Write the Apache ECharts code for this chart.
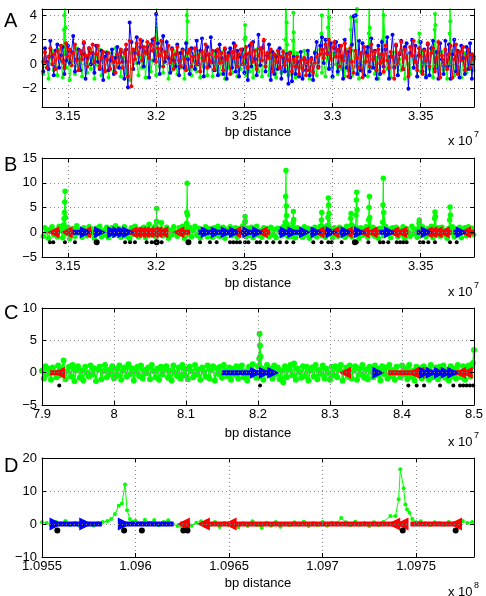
<!DOCTYPE html>
<html><head><meta charset="utf-8">
<script src="https://cdn.jsdelivr.net/npm/echarts@6/dist/echarts.min.js"></script>
<style>html,body{margin:0;padding:0;background:#fff}#c{width:486px;height:596px}</style>
</head><body><div id="c"></div>
<script>
// ---------------- DATA ----------------
// tick labels
const xTicksAB = [3.15, 3.2, 3.25, 3.3, 3.35];
const xTicksC = [7.9, 8.0, 8.1, 8.2, 8.3, 8.4, 8.5];
const xTicksD = [1.0955, 1.096, 1.0965, 1.097, 1.0975];
const yTicksA = [-2, 0, 2, 4];
const yTicksB = [-5, 0, 5, 10, 15];
const yTicksC = [-5, 0, 5, 10];
const yTicksD = [-10, 0, 10, 20];

// Panels A/B probe positions (x 10^7 bp)
const posAB = [3.136,3.137,3.138,3.139,3.140,3.141,3.142,3.143,3.144,3.145,
3.146,3.147,3.148,3.149,3.150,3.151,3.152,3.153,3.154,3.155,
3.156,3.157,3.158,3.159,3.160,3.161,3.162,3.163,3.164,3.165,
3.166,3.167,3.168,3.169,3.170,3.171,3.172,3.173,3.174,3.175,
3.176,3.177,3.178,3.179,3.180,3.181,3.182,3.183,3.184,3.185,
3.186,3.187,3.188,3.189,3.190,3.191,3.192,3.193,3.194,3.195,
3.196,3.197,3.198,3.199,3.200,3.201,3.202,3.203,3.204,3.205,
3.206,3.207,3.208,3.209,3.210,3.211,3.212,3.213,3.214,3.215,
3.216,3.217,3.218,3.219,3.220,3.221,3.222,3.223,3.224,3.225,
3.226,3.227,3.228,3.229,3.230,3.231,3.232,3.233,3.234,3.235,
3.236,3.237,3.238,3.239,3.240,3.241,3.242,3.243,3.244,3.245,
3.246,3.247,3.248,3.249,3.250,3.251,3.252,3.253,3.254,3.255,
3.256,3.257,3.258,3.259,3.260,3.261,3.262,3.263,3.264,3.265,
3.266,3.267,3.268,3.269,3.270,3.271,3.272,3.273,3.274,3.275,
3.276,3.277,3.278,3.279,3.280,3.281,3.282,3.283,3.284,3.285,
3.286,3.287,3.288,3.289,3.290,3.291,3.292,3.293,3.294,3.295,
3.296,3.297,3.298,3.299,3.300,3.301,3.302,3.303,3.304,3.305,
3.306,3.307,3.308,3.309,3.310,3.311,3.312,3.313,3.314,3.315,
3.316,3.317,3.318,3.319,3.320,3.321,3.322,3.323,3.324,3.325,
3.326,3.327,3.328,3.329,3.330,3.331,3.332,3.333,3.334,3.335,
3.336,3.337,3.338,3.339,3.340,3.341,3.342,3.343,3.344,3.345,
3.346,3.347,3.348,3.349,3.350,3.351,3.352,3.353,3.354,3.355,
3.356,3.357,3.358,3.359,3.360,3.361,3.362,3.363,3.364,3.365,
3.366,3.367,3.368,3.369,3.370,3.371,3.372,3.373,3.374,3.375,
3.376,3.377,3.378,3.379,3.380];
const redA = [0.2,1.0,-0.3,0.6,1.3,0.0,0.8,-0.4,1.1,0.5,
1.5,0.2,-0.3,1.7,0.6,1.2,-0.1,0.9,1.6,0.3,
-0.5,1.1,0.4,1.8,0.7,-0.2,1.3,0.9,1.6,0.1,
0.8,1.5,-0.3,0.5,1.0,-0.6,0.4,0.9,-0.4,0.6,
0.2,-0.7,0.8,0.1,1.2,-0.3,0.9,1.6,-1.0,1.9,
-1.8,1.2,0.4,1.7,0.8,2.0,0.3,1.4,0.9,1.8,
0.5,1.6,1.1,2.1,0.2,1.3,0.7,1.9,-0.2,1.0,
0.6,1.5,0.1,1.2,-0.4,0.8,1.4,0.3,-0.2,1.1,
0.4,-0.5,0.9,1.2,-0.2,0.6,1.3,0.0,0.7,-0.6,
1.0,0.3,1.6,-0.3,0.8,0.2,1.1,-0.4,0.6,1.2,
0.1,0.9,-0.5,1.3,0.4,0.7,-0.8,1.0,0.5,1.5,
-0.2,0.8,1.2,0.0,0.6,1.4,-0.3,0.9,1.7,0.2,
1.1,-0.4,0.7,1.3,0.3,2.0,-0.2,0.9,0.5,1.2,
-0.6,0.8,0.2,1.1,-0.3,0.6,1.0,-0.1,0.7,0.3,
0.9,-0.6,0.4,-0.2,0.6,-0.8,0.3,-0.4,0.5,-0.9,
0.2,-0.5,0.4,-0.7,0.1,0.6,-0.3,0.8,1.2,0.5,
1.6,0.8,2.0,0.4,1.4,1.8,0.6,1.2,-0.2,1.5,
0.3,1.7,0.9,-1.0,1.3,0.2,-0.7,1.1,0.5,-0.3,
0.9,-1.1,1.4,0.2,0.7,-0.2,1.6,0.4,1.0,-0.5,
1.2,0.1,0.8,-0.6,1.5,0.3,-0.3,1.0,0.6,-1.2,
1.6,0.0,0.9,1.8,-0.4,1.2,0.5,-1.0,1.4,0.7,
1.9,0.2,-0.5,1.3,0.6,-0.8,1.1,0.3,1.7,-0.2,
0.9,1.3,-0.6,0.5,1.8,-1.1,0.7,0.0,1.2,-0.4,
0.8,1.5,-1.1,0.4,1.6,-0.8,1.0,0.3,1.4,-0.5,
0.6,1.2,-0.3,0.8,0.4];
const blueA = [-0.6,1.3,0.2,-0.4,1.9,0.6,-0.9,1.1,1.6,-0.3,
0.7,1.4,-0.8,0.3,1.5,0.1,1.0,2.3,-0.6,0.4,
1.2,-0.5,0.8,1.7,-1.2,0.5,1.3,0.0,0.9,-0.7,
1.5,0.2,-0.4,1.1,-1.3,0.6,0.9,-0.5,0.3,1.2,
-0.8,0.5,1.4,-0.3,1.0,0.2,-1.2,1.2,-1.9,3.4,
1.8,-0.4,0.9,2.2,0.1,1.4,1.9,-0.2,1.0,1.4,
-1.1,1.6,2.0,0.3,4.1,1.7,-0.8,1.2,2.3,0.2,
1.8,0.5,-0.7,1.3,0.3,-0.2,1.6,-0.9,0.9,1.2,
-0.3,1.7,0.4,-0.8,1.3,0.6,-0.4,1.9,0.0,1.1,
2.1,-1.0,0.7,1.4,-0.2,2.2,0.2,-0.5,1.1,-0.9,
1.6,0.5,-0.8,1.2,-1.2,0.9,1.3,-0.3,1.7,-0.6,
1.1,-1.0,0.6,1.2,-0.7,0.8,-1.3,1.5,-0.2,1.8,
0.4,-0.9,2.4,-0.1,1.3,1.9,-0.6,0.7,1.6,-1.3,
1.0,-0.8,0.6,-0.4,1.3,-1.2,0.5,-0.6,0.8,-1.6,
0.9,-1.4,0.6,-0.8,0.2,-1.0,1.0,-1.2,0.4,-0.5,
1.1,-0.9,0.5,-1.3,0.9,1.8,-0.2,1.5,2.2,0.1,
2.0,0.9,-0.4,1.7,-1.0,1.3,1.8,-0.6,1.5,0.6,
-1.2,2.0,-0.3,1.0,-1.1,1.6,3.9,4.0,-0.8,1.9,
-0.5,1.7,-0.9,0.9,1.4,-0.6,2.1,-0.3,1.1,-1.2,
1.5,-0.8,1.8,-0.2,1.2,2.2,-1.2,0.6,2.4,-0.3,
1.5,-0.9,0.8,1.9,-0.4,1.4,1.7,-2.0,0.9,2.0,
-0.3,1.5,-1.0,0.7,1.8,-0.6,1.2,-1.1,1.6,-0.9,
1.3,1.9,-0.4,1.0,-1.2,1.7,0.4,-0.8,1.9,-0.2,
1.6,-1.2,0.8,2.0,-0.6,1.1,-1.1,1.5,0.5,-0.8,
1.4,-0.4,1.7,-1.2,0.6];
// green signal on the same probes (panels A and B)
const greenAB = [-0.8,0.9,0.1,-1.2,0.6,1.1,-0.5,0.3,-0.9,1.2,
0.4,-1.1,0.8,-0.3,1.0,-1.3,0.2,0.7,-0.8,1.3,
-0.2,0.5,-1.0,0.9,0.0,-0.7,1.1,-0.4,0.6,-1.2,
0.8,-0.1,1.2,-0.9,0.3,-0.5,1.0,-1.1,0.4,0.9,
-0.6,1.3,-0.2,0.7,-1.0,0.5,1.1,-0.8,0.2,-1.3,
0.9,-0.4,1.2,0.1,-0.9,0.6,-0.3,1.0,-1.1,0.8,
1.6,-0.6,0.3,1.1,-0.9,0.7,-0.2,1.9,-0.7,0.5,
1.0,-1.2,0.4,-0.5,1.1,0.0,-0.8,0.9,-0.3,1.2,
-1.2,0.6,-0.4,1.0,-0.9,0.3,1.2,-0.6,0.8,-1.1,
0.5,-0.2,1.1,-0.9,0.7,0.1,-1.0,0.9,-0.5,1.2,
-0.8,0.4,1.0,-1.2,0.6,-0.3,1.1,-0.7,0.2,0.9,
-1.0,0.7,-0.4,1.2,0.0,-0.9,0.8,-0.6,1.0,-1.1,
0.5,1.2,-0.6,0.3,-1.0,0.9,-0.2,0.7,-0.9,1.0,
-0.5,0.6,-1.1,0.8,0.2,-0.7,1.1,-0.4,0.5,-0.9,
1.0,-0.8,0.3,-1.1,0.9,-0.3,0.6,-1.0,1.1,-0.5,
0.8,-1.2,0.4,-0.6,1.0,-0.9,0.2,1.2,-0.7,0.5,
-1.0,1.3,-0.3,0.7,-1.1,0.9,0.0,-0.8,1.0,-0.4,
0.6,-1.0,1.2,-0.5,0.3,-0.9,1.1,-0.2,0.8,-1.2,
0.9,-0.6,0.2,1.1,-1.0,0.7,-0.3,1.0,-0.8,0.5,
-1.2,0.8,0.1,-0.7,1.2,-0.4,0.6,-1.1,0.9,-0.2,
1.0,-0.9,0.4,-0.5,1.1,-1.2,0.7,0.0,-0.8,1.2,
-0.3,0.6,-1.0,0.9,-0.6,1.1,0.2,-0.9,0.7,-0.4,
1.2,-1.1,0.5,-0.2,0.9,-0.8,1.0,-0.5,0.3,-1.2,
0.8,-0.1,1.1,-0.9,0.6,-0.6,1.0,-1.1,0.4,0.9,
-0.7,1.1,-0.4,0.8,-0.5];
// extra green readings in the peaks, [position x10^7, value]
const greenPeaksAB = [[3.1476,1.5],[3.1478,2.8],[3.1480,4.0],[3.1482,6.1],[3.1484,8.3],[3.1486,3.0],
[3.2002,2.2],[3.2003,4.8],[3.2004,2.0],
[3.2173,1.8],[3.2174,4.0],[3.2176,9.9],[3.2178,3.5],
[3.2503,2.0],[3.2504,3.2],[3.2505,2.2],
[3.2732,2.0],[3.2734,7.2],[3.2736,12.5],[3.2738,5.3],[3.2740,3.4],[3.2742,1.6],
[3.2776,1.9],[3.2778,4.2],[3.2780,2.6],
[3.2937,2.5],[3.2939,4.0],[3.2941,1.2],
[3.2972,1.3],[3.2974,3.0],[3.2976,6.9],[3.2978,5.5],[3.2980,3.8],
[3.3103,2.8],[3.3105,3.8],[3.3107,1.5],
[3.3133,3.5],[3.3135,6.5],[3.3137,8.1],[3.3139,4.5],
[3.3205,2.5],[3.3207,5.0],[3.3209,7.2],[3.3211,3.0],
[3.3284,2.0],[3.3286,5.5],[3.3288,10.9],[3.3290,4.0],
[3.3491,1.8],[3.3492,2.5],[3.3493,1.8],
[3.3579,2.8],[3.3581,4.1],[3.3583,3.2],
[3.3664,2.5],[3.3666,5.1],[3.3668,3.5]];

// Panel B genes
const redStartB = [3.1417,3.1493,3.1597,3.1861,3.1908,3.1955,3.2002,3.2126,3.2447,3.2598,3.2920,3.3005,3.3080,3.3175,3.3222,3.3345,3.3534,3.3590,3.3751];
const redEndB   = [3.1455,3.1521,3.1635,3.1908,3.1955,3.2002,3.2069,3.2192,3.2504,3.2646,3.2957,3.3042,3.3118,3.3212,3.3269,3.3430,3.3590,3.3675,3.3802];
const redTriB = [3.1417,3.1493,3.1597,3.1861,3.1885,3.1908,3.1930,3.1955,3.1980,3.2002,3.2035,3.2126,3.2447,3.2598,3.2920,3.3005,3.3080,3.3175,3.3222,3.3345,3.3390,3.3534,3.3560,3.3590,3.3630,3.3751];
const blueStartB = [3.1521,3.1644,3.1729,3.1757,3.1786,3.1814,3.2239,3.2287,3.2344,3.2400,3.2475,3.2523,3.2693,3.2778,3.2872,3.2957,3.3042,3.3118,3.3269,3.3477,3.3685];
const blueEndB   = [3.1602,3.1682,3.1757,3.1786,3.1814,3.1842,3.2287,3.2344,3.2400,3.2447,3.2523,3.2579,3.2778,3.2844,3.2910,3.2995,3.3080,3.3156,3.3326,3.3534,3.3732];
const blueTriB = [3.1602,3.1682,3.1757,3.1786,3.1814,3.1842,3.2287,3.2344,3.2400,3.2447,3.2523,3.2579,3.2735,3.2778,3.2844,3.2910,3.2995,3.3080,3.3156,3.3326,3.3534,3.3732];
const starsB = [3.1398,3.1417,3.1483,3.1540,3.1824,3.1852,3.1880,3.1946,3.1975,3.1994,3.2031,3.2249,3.2305,3.2343,3.2419,3.2438,3.2457,3.2475,3.2504,3.2523,3.2570,3.2589,3.2627,3.2664,3.2702,3.2740,3.2778,3.2891,3.2938,3.2976,3.2995,3.3052,3.3137,3.3203,3.3269,3.3288,3.3316,3.3364,3.3383,3.3401,3.3420,3.3496,3.3515,3.3543,3.3581,3.3666,3.3704];
const bigStarsB = [3.1663,3.2003,3.2183,3.3127];

// Panel C probe positions (x 10^7 bp) and green signal
const posC = [7.9,7.9025,7.905,7.9075,7.91,7.9125,7.915,7.9175,7.92,7.9225,
7.925,7.9275,7.93,7.9325,7.935,7.9375,7.94,7.9425,7.945,7.9475,
7.95,7.9525,7.955,7.9575,7.96,7.9625,7.965,7.9675,7.97,7.9725,
7.975,7.9775,7.98,7.9825,7.985,7.9875,7.99,7.9925,7.995,7.9975,
8.0,8.0025,8.005,8.0075,8.01,8.0125,8.015,8.0175,8.02,8.0225,
8.025,8.0275,8.03,8.0325,8.035,8.0375,8.04,8.0425,8.045,8.0475,
8.05,8.0525,8.055,8.0575,8.06,8.0625,8.065,8.0675,8.07,8.0725,
8.075,8.0775,8.08,8.0825,8.085,8.0875,8.09,8.0925,8.095,8.0975,
8.1,8.1025,8.105,8.1075,8.11,8.1125,8.115,8.1175,8.12,8.1225,
8.125,8.1275,8.13,8.1325,8.135,8.1375,8.14,8.1425,8.145,8.1475,
8.15,8.1525,8.155,8.1575,8.16,8.1625,8.165,8.1675,8.17,8.1725,
8.175,8.1775,8.18,8.1825,8.185,8.1875,8.19,8.1925,8.195,8.1975,
8.2,8.2025,8.205,8.2075,8.21,8.2125,8.215,8.2175,8.22,8.2225,
8.225,8.2275,8.23,8.2325,8.235,8.2375,8.24,8.2425,8.245,8.2475,
8.25,8.2525,8.255,8.2575,8.26,8.2625,8.265,8.2675,8.27,8.2725,
8.275,8.2775,8.28,8.2825,8.285,8.2875,8.29,8.2925,8.295,8.2975,
8.3,8.3025,8.305,8.3075,8.31,8.3125,8.315,8.3175,8.32,8.3225,
8.325,8.3275,8.33,8.3325,8.335,8.3375,8.34,8.3425,8.345,8.3475,
8.35,8.3525,8.355,8.3575,8.36,8.3625,8.365,8.3675,8.37,8.3725,
8.375,8.3775,8.38,8.3825,8.385,8.3875,8.39,8.3925,8.395,8.3975,
8.4,8.4025,8.405,8.4075,8.41,8.4125,8.415,8.4175,8.42,8.4225,
8.425,8.4275,8.43,8.4325,8.435,8.4375,8.44,8.4425,8.445,8.4475,
8.45,8.4525,8.455,8.4575,8.46,8.4625,8.465,8.4675,8.47,8.4725,
8.475,8.4775,8.48,8.4825,8.485,8.4875,8.49,8.4925,8.495,8.4975,
8.5];
const greenC = [0.3,-0.9,1.0,-0.2,0.6,-1.1,0.8,0.1,-0.7,1.1,
-0.4,0.5,1.9,-1.0,0.2,0.9,-0.6,1.2,-1.3,0.4,
1.0,-0.8,0.3,-1.2,0.9,0.0,-0.6,1.1,-0.3,0.7,
-1.3,0.5,0.9,-1.0,0.2,1.2,-0.7,0.4,-0.2,1.0,
-0.9,0.6,-0.4,1.1,-1.1,0.3,0.8,-0.6,1.3,-0.2,
0.7,-1.2,0.1,0.9,-0.5,1.1,-0.9,0.4,-0.1,0.8,
-1.0,1.2,0.2,-0.7,0.6,-1.1,0.9,-0.3,0.5,1.0,
-0.8,0.3,-1.2,1.1,0.0,-0.5,0.8,-0.9,1.2,-0.4,
0.6,-1.0,0.9,0.2,-0.7,1.2,-0.3,0.5,-1.1,0.8,
0.1,-0.6,1.1,-0.9,0.4,1.0,-1.2,0.7,-0.2,0.9,
-0.8,1.2,0.3,-0.5,0.8,-1.1,0.6,-0.3,1.0,-0.9,
0.5,1.1,-0.7,0.2,-1.2,0.9,-0.4,1.3,0.0,-0.8,
1.0,-0.6,0.7,-1.1,0.4,1.2,-0.3,0.6,-0.9,1.1,
-0.2,0.8,-1.0,0.3,-1.5,1.0,-0.7,0.5,1.2,-0.4,
1.4,-1.1,0.6,0.1,-0.8,1.0,-0.5,0.9,-1.2,0.3,
0.8,-0.6,1.2,-1.0,0.4,-0.2,1.1,-0.9,0.6,0.0,
-1.1,0.9,-0.4,1.0,-0.7,0.5,1.2,-1.2,0.2,0.8,
-0.6,1.1,-0.9,0.3,1.0,-1.1,0.7,-0.3,1.2,-0.8,
0.5,-1.0,0.9,0.1,-0.7,1.1,-0.4,0.6,-1.2,1.0,
-0.2,0.8,-0.9,1.2,-0.5,0.4,-1.1,0.9,0.0,-0.7,
1.1,-0.3,0.6,-1.0,1.2,-0.6,0.3,-1.2,0.9,-0.1,
0.7,-0.9,1.0,-0.4,0.5,-1.1,1.2,-0.7,0.2,0.8,
-1.0,0.9,-0.3,1.1,-0.8,0.4,-1.2,1.0,-0.5,0.6,
-0.9,1.2,0.0,-0.7,1.0,-1.1,0.5,1.1,-0.6,0.9,
3.5];
const greenPeaksC = [[8.2018,2.2],[8.2022,6.0],[8.2028,4.2],[8.2034,2.5],[8.4985,1.5]];
const redStartC = [7.9110,8.3810,8.4740];
const redEndC   = [7.9235,8.4227,8.4944];
const redTriC = [7.9235,8.3208,8.4157,8.4227,8.4806,8.4899];
const blueStartC = [8.1496,8.4250,8.4480];
const blueEndC   = [8.2213,8.4440,8.4740];
const blueTriC = [8.1972,8.2097,8.2213,8.3671,8.4319,8.4412,8.4528,8.4621,8.4713];
const starsC = [7.9240,8.2028,8.4088,8.4204,8.4306,8.4528,8.4713,8.4806,8.4851,8.4898,8.4944,8.4990];

// Panel D (x 10^8 bp), [position, value]
const greenD = [[1.095500,0.5],[1.095525,0.3],[1.095550,-0.4],[1.095575,0.6],[1.095600,0.2],[1.095625,0.9],[1.095650,-0.3],[1.095675,0.4],[1.095700,-0.6],[1.095725,0.7],
[1.095750,0.1],[1.095775,-0.5],[1.095800,0.3],[1.095825,0.6],[1.095850,0.9],[1.095870,1.5],[1.095890,3.0],[1.095910,5.5],[1.095927,6.2],[1.095944,12.0],
[1.095955,4.2],[1.095970,1.5],[1.095985,0.6],[1.096000,1.0],[1.096025,0.2],[1.096050,1.3],[1.096075,0.4],[1.096100,1.2],[1.096125,-0.4],[1.096150,0.6],
[1.096175,1.1],[1.096200,0.0],[1.096225,-0.6],[1.096250,-1.2],[1.096275,0.3],[1.096300,-0.5],[1.096325,0.4],[1.096350,0.8],[1.096375,-0.7],[1.096400,-0.2],
[1.096425,0.6],[1.096450,-0.9],[1.096475,0.3],[1.096500,-0.4],[1.096525,0.5],[1.096550,-1.0],[1.096575,0.2],[1.096600,-0.6],[1.096625,0.8],[1.096650,-0.3],
[1.096675,-1.1],[1.096700,0.4],[1.096725,-0.5],[1.096750,0.6],[1.096775,-0.8],[1.096800,0.1],[1.096825,-0.4],[1.096850,0.5],[1.096875,-0.2],[1.096900,0.7],
[1.096925,-0.6],[1.096950,0.3],[1.096975,-0.3],[1.097000,0.6],[1.097025,-0.5],[1.097050,0.4],[1.097075,0.2],[1.097100,1.8],[1.097125,0.5],[1.097150,-0.4],
[1.097175,0.7],[1.097200,-0.2],[1.097225,0.3],[1.097250,-0.6],[1.097275,0.5],[1.097300,-0.3],[1.097325,0.6],[1.097363,2.4],[1.097390,2.4],[1.097407,7.5],
[1.097416,16.6],[1.097434,10.8],[1.097443,5.9],[1.097452,4.4],[1.097465,3.4],[1.097480,1.5],[1.097500,0.5],[1.097525,0.8],[1.097550,0.2],[1.097575,-0.3],
[1.097600,0.5],[1.097625,0.3],[1.097650,-0.2],[1.097675,0.6],[1.097700,0.2],[1.097725,-0.4],[1.097750,0.9],[1.097775,0.3],[1.097800,0.6]];
const blueStartD = [1.095570,1.095935];
const blueEndD   = [1.095820,1.096203];
const blueTriD = [1.095575,1.095734,1.095940];
const redStartD = [1.096239,1.096363,1.097470];
const redEndD   = [1.096292,1.097434,1.097728];
const redTriD = [1.096256,1.096363,1.096506,1.097381,1.097425,1.097711];
const starsD = [1.095582,1.095939,1.096034,1.096256,1.096278,1.097429,1.097712];

// ---------------- CHART ----------------
const FONT = '"Liberation Sans", Arial, Helvetica, sans-serif';
const fmt = v => String(+(+v).toFixed(4)).replace('-', '\u2212');
const GREEN = '#00ff00', RED = '#ff0000', BLUE = '#0000ff';
const RIGHT = 'path://M0,0L10,5L0,10Z', LEFT = 'path://M10,0L0,5L10,10Z';

const panels = [
  {top: 9,   height: 98, xMin: 3.1353, xMax: 3.3802,  xTicks: xTicksAB, yMin: -3.5, yMax: 4.5, yTicks: yTicksA},
  {top: 158, height: 99, xMin: 3.1353, xMax: 3.3802,  xTicks: xTicksAB, yMin: -5,   yMax: 15,  yTicks: yTicksB},
  {top: 308, height: 97, xMin: 7.9,    xMax: 8.5,     xTicks: xTicksC,  yMin: -5,   yMax: 10,  yTicks: yTicksC},
  {top: 458, height: 99, xMin: 1.0955, xMax: 1.09781, xTicks: xTicksD,  yMin: -10,  yMax: 20,  yTicks: yTicksD}
];

const grid = [], xAxis = [], yAxis = [];
panels.forEach(p => grid.push({left: 42, width: 432, top: p.top, height: p.height, show: false, outerBoundsMode: 'none'}));
function axisBase(main, ticks) {
  return {
    z: 10,
    axisLine: {show: true, onZero: false, lineStyle: {color: '#000', width: 1}},
    axisTick: {show: true, inside: true, length: 4, customValues: ticks, lineStyle: {color: '#000', width: 1}},
    splitLine: {show: main, lineStyle: {color: '#8a8a8a', width: 1, type: [1, 3]}},
  };
}
['bottom', 'top'].forEach(pos => panels.forEach((p, i) => {
  const main = pos === 'bottom';
  xAxis.push(Object.assign({type: 'value', gridIndex: i, position: pos, min: p.xMin, max: p.xMax,
    axisLabel: {show: main, customValues: p.xTicks, formatter: fmt, margin: 3, color: '#000', fontSize: 13, fontFamily: FONT, hideOverlap: false}
  }, axisBase(main, p.xTicks)));
}));
['left', 'right'].forEach(pos => panels.forEach((p, i) => {
  const main = pos === 'left';
  yAxis.push(Object.assign({type: 'value', gridIndex: i, position: pos, min: p.yMin, max: p.yMax,
    axisLabel: {show: main, customValues: p.yTicks, formatter: fmt, margin: 5, color: '#000', fontSize: 13, fontFamily: FONT, hideOverlap: false}
  }, axisBase(main, p.yTicks)));
}));

const zip = (xs, ys) => xs.map((x, k) => [x, ys[k]]);
const merge = (a, b) => a.concat(b).sort((p, q) => p[0] - q[0]);
const segs = (s, e) => { const d = []; s.forEach((v, k) => { d.push([v, 0], [e[k], 0], [e[k], '-']); }); return d; };
const at = (xs, y) => xs.map(x => [x, y]);

function lineS(i, data, color, size, z, lw) {
  return {type: 'line', xAxisIndex: i, yAxisIndex: i, data, symbol: 'circle', symbolSize: size, showSymbol: true, z,
    itemStyle: {color, borderWidth: 0}, lineStyle: {color, width: lw || 1}, clip: true, silent: true, animation: false};
}
function barS(i, data, color) {
  return {type: 'line', xAxisIndex: i, yAxisIndex: i, data, symbol: 'none', connectNulls: false, z: 6,
    lineStyle: {color, width: 5}, clip: true, silent: true, animation: false};
}
function triS(i, xs, color, sym, size) {
  return {type: 'scatter', xAxisIndex: i, yAxisIndex: i, data: at(xs, 0), symbol: sym, symbolSize: [size, size], z: 7,
    itemStyle: {color, opacity: 1, borderWidth: 0, borderColor: color}, clip: true, silent: true, animation: false};
}
function starS(i, xs, size) {
  return {type: 'scatter', xAxisIndex: i, yAxisIndex: i, data: at(xs, -2), symbol: 'circle', symbolSize: size, z: 7,
    itemStyle: {color: '#000', opacity: 1, borderWidth: 0}, clip: true, silent: true, animation: false};
}

const greenABData = merge(zip(posAB, greenAB), greenPeaksAB);
const series = [
  lineS(0, greenABData, GREEN, 4, 2), lineS(0, zip(posAB, blueA), BLUE, 4, 3), lineS(0, zip(posAB, redA), RED, 4, 4),
  lineS(1, greenABData, GREEN, 5.5, 2, 1.2),
  barS(1, segs(redStartB, redEndB), RED), barS(1, segs(blueStartB, blueEndB), BLUE),
  triS(1, redTriB, RED, LEFT, 12), triS(1, blueTriB, BLUE, RIGHT, 12),
  starS(1, starsB, 4), starS(1, bigStarsB, 6),
  lineS(2, merge(zip(posC, greenC), greenPeaksC), GREEN, 6, 2, 1.5),
  barS(2, segs(redStartC, redEndC), RED), barS(2, segs(blueStartC, blueEndC), BLUE),
  triS(2, redTriC, RED, LEFT, 12), triS(2, blueTriC, BLUE, RIGHT, 12),
  starS(2, starsC, 4),
  lineS(3, greenD, GREEN, 4, 2),
  barS(3, segs(redStartD, redEndD), RED), barS(3, segs(blueStartD, blueEndD), BLUE),
  triS(3, redTriD, RED, LEFT, 13), triS(3, blueTriD, BLUE, RIGHT, 13),
  starS(3, starsD, 6)
];

const txt = (x, y, text, size, align) => ({type: 'text', x, y, silent: true,
  style: {text, fontSize: size, fontFamily: FONT, fill: '#000', align: align || 'left', verticalAlign: 'middle'}});
const letters = ['A', 'B', 'C', 'D'];
const letterY = [21, 165, 313, 466];
const nameY = [132, 283, 433, 583];
const expo = ['7', '7', '7', '8'];
const graphic = [];
letters.forEach((l, k) => {
  graphic.push(txt(4, letterY[k], l, 20));
  graphic.push(txt(258, nameY[k], 'bp distance', 13, 'center'));
  graphic.push(txt(448, nameY[k] + 9, 'x 10', 13));
  graphic.push(txt(474, nameY[k] + 3, expo[k], 9));
});

const chart = echarts.init(document.getElementById('c'), null, {renderer: 'canvas'});
chart.setOption({animation: false, backgroundColor: '#fff', grid, xAxis, yAxis, series, graphic});
</script></body></html>
